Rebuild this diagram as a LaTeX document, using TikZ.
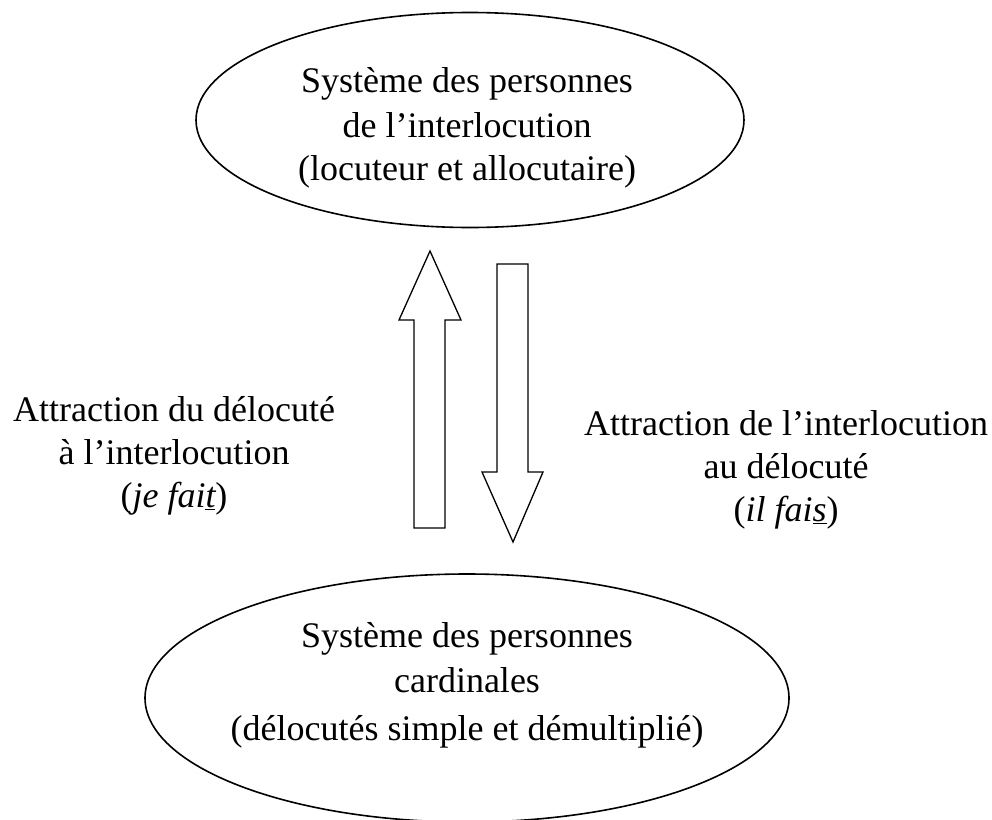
\documentclass[tikz,border=0pt]{standalone}
\usepackage{fontspec}
\setmainfont{Liberation Serif}
\usetikzlibrary{shapes.geometric}
\begin{document}
\begin{tikzpicture}[x=1pt,y=-1pt,
  every node/.style={font=\fontsize{36}{44}\selectfont, inner sep=0pt},
  lbl/.style={anchor=base},
  oval/.style={draw, ellipse, line width=1.6pt, inner sep=0pt},
  blockarrow/.style={draw, line width=1.3pt, line join=miter}]
\useasboundingbox (0,0) rectangle (992,819);
% ellipses
\node[oval, minimum width=548pt, minimum height=215pt] (topoval) at (470,120) {};
\node[oval, minimum width=644pt, minimum height=248pt] (botoval) at (467,698) {};
% top ellipse text
\node[lbl] (t1) at (467,92) {Système des personnes};
\node[lbl] (t2) at (467,137) {de l’interlocution};
\node[lbl] (t3) at (467,180) {(locuteur et allocutaire)};
% bottom ellipse text
\node[lbl] (b1) at (467,647) {Système des personnes};
\node[lbl] (b2) at (467,692) {cardinales};
\node[lbl] (b3) at (467,740) {(délocutés simple et démultiplié)};
% left label
\node[lbl] (l1) at (174,421) {Attraction du délocuté};
\node[lbl] (l2) at (174,464) {à l’interlocution};
\node[lbl] (l3) at (174,507) {(\textit{je fai\underline{t}})};
% right label
\node[lbl] (r1) at (786,435) {Attraction de l’interlocution};
\node[lbl] (r2) at (786,478) {au délocuté};
\node[lbl] (r3) at (786,521) {(\textit{il fai\underline{s}})};
% up arrow
\draw[blockarrow] (430,251) -- (461,320) -- (445,320) -- (445,528) -- (414,528) -- (414,320) -- (399,320) -- cycle;
% down arrow
\draw[blockarrow] (497,264) -- (528,264) -- (528,472) -- (543,472) -- (513,542) -- (482,472) -- (497,472) -- cycle;
\end{tikzpicture}
\end{document}
